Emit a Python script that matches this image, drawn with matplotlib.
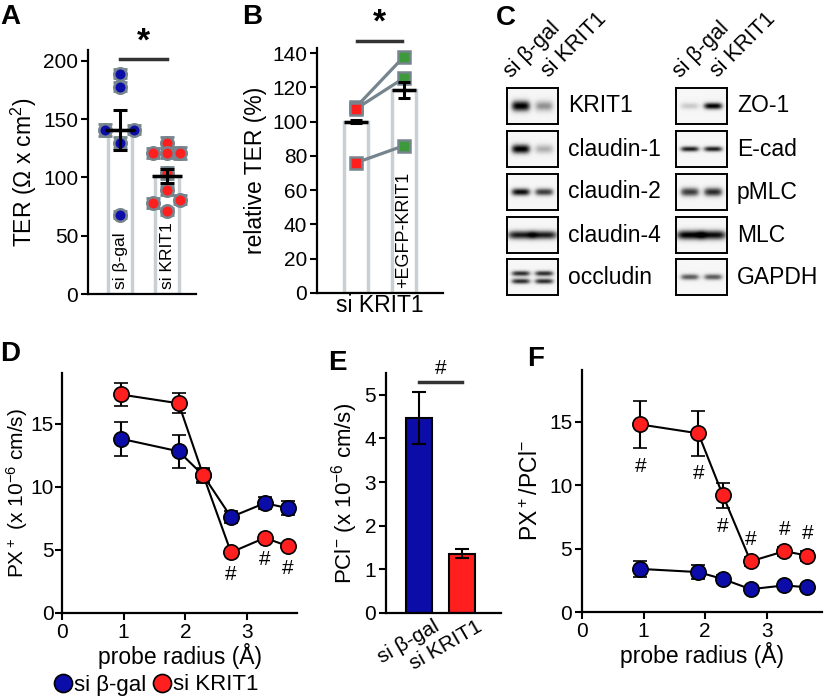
import matplotlib
matplotlib.use('Agg')
import matplotlib.pyplot as plt
import matplotlib.transforms as mtransforms
import numpy as np

plt.rcParams['font.family'] = ['Liberation Sans', 'DejaVu Sans']
plt.rcParams['mathtext.default'] = 'regular'

# ---- data ----
# A: TER per well
a_groups = ['si β-gal', 'si KRIT1']
a_means = [141, 101]
a_sem = [17, 6]
a_bgal = [189, 178, 141, 141, 130, 68]
a_bgal_err = [4, 4, 5, 4, 5, 3]
a_krit = [130, 121, 121, 121, 104, 89, 81, 78, 71]
a_krit_err = [5, 4, 4, 5, 5, 4, 4, 4, 3]

# B: relative TER, si KRIT1 vs si KRIT1 + EGFP-KRIT1
b_labels = ['', '+EGFP-KRIT1']
b_means = [100, 118.5]
b_sem = [1, 4.5]
b_before = [108.5, 107.5, 76]
b_after = [138, 125.5, 86]

# C: western blots (band strength per lane: si b-gal, si KRIT1)
c_left_names = ['KRIT1', 'claudin-1', 'claudin-2', 'claudin-4', 'occludin']
c_left_bands = [[0.95, 0.45], [0.95, 0.35], [0.9, 0.75], [0.85, 0.85], [0.8, 0.8]]
c_right_names = ['ZO-1', 'E-cad', 'pMLC', 'MLC', 'GAPDH']
c_right_bands = [[0.25, 0.95], [0.85, 0.85], [0.75, 0.8], [0.95, 0.9], [0.65, 0.65]]
c_lanes = ['si β-gal', 'si KRIT1']

# D / F: probe radius series
radius = [0.95, 1.89, 2.29, 2.74, 3.29, 3.66]
d_bgal = [13.8, 12.8, 10.9, 7.6, 8.7, 8.3]
d_bgal_err = [1.35, 1.3, 0.5, 0.5, 0.5, 0.55]
d_krit = [17.3, 16.6, 10.9, 4.8, 5.95, 5.3]
d_krit_err = [0.9, 0.8, 0.6, 0.2, 0.2, 0.2]
d_sig = ['', '', '', '#', '#', '#']

e_groups = ['si β-gal', 'si KRIT1']
e_vals = [4.47, 1.36]
e_err = [0.6, 0.11]

f_bgal = [3.4, 3.15, 2.6, 1.8, 2.1, 1.95]
f_bgal_err = [0.6, 0.55, 0.35, 0.2, 0.2, 0.2]
f_krit = [14.8, 14.1, 9.2, 4.0, 4.8, 4.45]
f_krit_err = [1.85, 1.75, 1.0, 0.35, 0.35, 0.4]
f_sig_below = [True, True, True, False, False, False]

BLUE = '#0c0ca8'
RED = '#ff1f1f'
GREEN = '#3c9a3c'
PTGRAY = '#76848d'
BARGRAY = '#c8d0d4'

W, H = 825, 696
fig = plt.figure(figsize=(W / 100, H / 100), dpi=100)


def px_axes(x0, y0, x1, y1):
    return fig.add_axes([x0 / W, 1 - y1 / H, (x1 - x0) / W, (y1 - y0) / H])


def style(ax, xticks=True):
    for s in ['top', 'right']:
        ax.spines[s].set_visible(False)
    for s in ['left', 'bottom']:
        ax.spines[s].set_linewidth(1.6)
    ax.tick_params(width=1.5, length=5, labelsize=15, pad=2)
    if not xticks:
        ax.tick_params(axis='x', length=0, labelbottom=False)


def letter(x, y, s):
    fig.text(x / W, 1 - y / H, s, fontsize=20, fontweight='bold', ha='left', va='top')


# ---- A ----
ax = px_axes(88, 50, 196, 294)
style(ax, xticks=False)
pos = [1, 2]
ax.bar(pos, a_means, width=0.53, fill=False, edgecolor=BARGRAY, linewidth=2.5, zorder=1)
offs_b = [0, 0, -0.32, 0.3, 0, 0]
offs_k = [0, -0.3, 0, 0.28, 0, 0, 0.28, -0.3, 0]
for p, vals, errs, offs, col in [(1, a_bgal, a_bgal_err, offs_b, BLUE),
                                 (2, a_krit, a_krit_err, offs_k, RED)]:
    xs = [p + o for o in offs]
    ax.errorbar(xs, vals, yerr=errs, fmt='none', ecolor=PTGRAY, elinewidth=2,
                capsize=5, capthick=2, zorder=2)
    ax.plot(xs, vals, 'o', color=col, mec=PTGRAY, mew=1.8, ms=9, zorder=3)
ax.errorbar(pos, a_means, yerr=a_sem, fmt='none', ecolor='k', elinewidth=2.2,
            capsize=5, capthick=2.2, zorder=5)
ax.hlines(a_means, [p - 0.32 for p in pos], [p + 0.32 for p in pos], color='k', lw=2.5, zorder=5)
for p, g in zip(pos, a_groups):
    ax.text(p, 4, g, rotation=90, ha='center', va='bottom', fontsize=12.5, zorder=4)
ax.set_xlim(0.319, 2.617)
ax.set_ylim(0, 209.4)
ax.set_yticks([0, 50, 100, 150, 200])
ax.set_ylabel('TER (Ω x cm$^2$)', fontsize=16.5, labelpad=3)
ax.plot([1, 2], [201.7, 201.7], color='#333333', lw=2.5, clip_on=False)
ax.text(1.5, 203, '*', ha='center', va='bottom', fontsize=24, fontweight='bold')

# ---- B ----
ax = px_axes(317, 48, 443, 293)
style(ax, xticks=False)
ax.bar(pos, b_means, width=0.52, fill=False, edgecolor=BARGRAY, linewidth=2.5, zorder=1)
for b, a in zip(b_before, b_after):
    ax.plot([1, 2], [b, a], color=PTGRAY, lw=2.3, zorder=2)
ax.plot([1] * len(b_before), b_before, 's', color=RED, mec=PTGRAY, mew=1.8, ms=8, zorder=3)
ax.plot([2] * len(b_after), b_after, 's', color=GREEN, mec=PTGRAY, mew=1.8, ms=8, zorder=3)
ax.errorbar(pos, b_means, yerr=b_sem, fmt='none', ecolor='k', elinewidth=2.2,
            capsize=4, capthick=2.2, zorder=5)
ax.hlines(b_means, [p - 0.26 for p in pos], [p + 0.26 for p in pos], color='k', lw=2.5, zorder=5)
ax.text(2, 3, b_labels[1], rotation=90, ha='center', va='bottom', fontsize=13)
ax.set_xlim(0.1875, 2.8125)
ax.set_ylim(0, 143)
ax.set_yticks(range(0, 141, 20))
ax.set_ylabel('relative TER (%)', fontsize=16.5, labelpad=4)
ax.set_xlabel('si KRIT1', fontsize=16.5, labelpad=1)
ax.plot([1.02, 1.96], [147.2, 147.2], color='#333333', lw=2.5, clip_on=False)
ax.text(1.49, 148.5, '*', ha='center', va='bottom', fontsize=24, fontweight='bold')

# ---- C ----
c_sigma = {'KRIT1': 0.16, 'claudin-1': 0.14, 'claudin-2': 0.11, 'claudin-4': 0.13,
           'occludin': 0.08, 'ZO-1': 0.1, 'E-cad': 0.08, 'pMLC': 0.13, 'MLC': 0.14,
           'GAPDH': 0.09}


def blot(ax, name, strengths):
    yy, xx = np.mgrid[0:1:72j, 0:1:102j]
    img = np.full(xx.shape, 0.07)
    wide = 0.27 if name in ('claudin-4', 'MLC') else 0.19
    for s, xc in zip(strengths, [0.27, 0.73]):
        hprof = np.exp(-((xx - xc) / wide) ** 4)
        if name == 'occludin':
            vprof = np.exp(-((yy - 0.4) / 0.08) ** 2) + np.exp(-((yy - 0.62) / 0.08) ** 2)
        else:
            vprof = np.exp(-((yy - 0.5) / c_sigma[name]) ** 2)
        img += s * hprof * vprof
    ax.imshow(np.clip(img, 0, 1), cmap='Greys', vmin=0, vmax=1, aspect='auto',
              interpolation='bilinear')
    ax.set_xticks([])
    ax.set_yticks([])
    for sp in ax.spines.values():
        sp.set_linewidth(1.4)


row_tops = [88, 131, 174, 217, 259]
for x0, names, bands in [(507, c_left_names, c_left_bands), (676, c_right_names, c_right_bands)]:
    for top, nm, bd in zip(row_tops, names, bands):
        bax = px_axes(x0, top, x0 + 51, top + 36)
        blot(bax, nm, bd)
        fig.text((x0 + 61) / W, 1 - (top + 18) / H, nm, fontsize=16.5, va='center', ha='left')
    for dx, ln in zip([8, 46], c_lanes):
        fig.text((x0 + dx) / W, 1 - 82 / H, ln, fontsize=15.5, rotation=45,
                 ha='left', va='bottom', rotation_mode='anchor')

# ---- D ----
ax = px_axes(62, 373, 297, 613)
style(ax)
ax.tick_params(axis='y', pad=1)
for vals, errs, col in [(d_bgal, d_bgal_err, BLUE), (d_krit, d_krit_err, RED)]:
    ax.errorbar(radius, vals, yerr=errs, fmt='-o', color='k', mfc=col, mec='k', mew=1.2,
                ms=11, lw=1.5, elinewidth=1.5, capsize=5, capthick=1.5)
for x, v, e, s in zip(radius, d_krit, d_krit_err, d_sig):
    if s:
        ax.text(x, v - e - 0.8, s, ha='center', va='top', fontsize=15)
ax.set_xlim(0, 3.81)
ax.set_ylim(0, 19)
ax.set_xticks([0, 1, 2, 3])
ax.set_yticks([0, 5, 10, 15])
ax.set_ylabel('PX$^+$ (x 10$^{-6}$ cm/s)', fontsize=15)
ax.yaxis.set_label_coords(-0.135, 0.5)
ax.set_xlabel('probe radius (Å)', fontsize=16.5, labelpad=1)
hb, = ax.plot([], [], 'o', mfc=BLUE, mec='k', mew=1.2, ms=13)
hr, = ax.plot([], [], 'o', mfc=RED, mec='k', mew=1.2, ms=13)
fig.legend([hb, hr], ['si β-gal', 'si KRIT1'], loc='center left',
           bbox_to_anchor=(56 / W, 1 - 685 / H), ncol=2, frameon=False, fontsize=16,
           handlelength=0.6, handletextpad=0.2, columnspacing=0.4, borderpad=0,
           borderaxespad=0)

# ---- E ----
ax = px_axes(386, 373, 501, 613)
style(ax)
ax.bar(pos, e_vals, width=0.615, color=[BLUE, RED], edgecolor='k', linewidth=1.5)
ax.errorbar(pos, e_vals, yerr=e_err, fmt='none', ecolor='k', elinewidth=1.5,
            capsize=5, capthick=1.5)
ax.set_xlim(0.213, 2.93)
ax.set_ylim(0, 5.5)
ax.set_yticks([0, 1, 2, 3, 4, 5])
ax.set_xticks(pos)
ax.set_xticklabels(e_groups, rotation=30, ha='right', rotation_mode='anchor')
ax.tick_params(axis='x', length=0, pad=3)
shift = mtransforms.ScaledTranslation(14 / 100, 0, fig.dpi_scale_trans)
for t in ax.get_xticklabels():
    t.set_transform(t.get_transform() + shift)
ax.set_ylabel('PCl$^{-}$ (x 10$^{-6}$ cm/s)', fontsize=16, labelpad=3)
ax.plot([1, 2], [5.3, 5.3], color='#333333', lw=2.5, clip_on=False)
ax.text(1.5, 5.38, '#', ha='center', va='bottom', fontsize=15)

# ---- F ----
ax = px_axes(582, 370, 822, 612)
style(ax)
for vals, errs, col in [(f_bgal, f_bgal_err, BLUE), (f_krit, f_krit_err, RED)]:
    ax.errorbar(radius, vals, yerr=errs, fmt='-o', color='k', mfc=col, mec='k', mew=1.2,
                ms=11, lw=1.5, elinewidth=1.5, capsize=5, capthick=1.5)
for x, v, e, below in zip(radius, f_krit, f_krit_err, f_sig_below):
    if below:
        ax.text(x, v - e - 0.7, '#', ha='center', va='top', fontsize=15)
    else:
        ax.text(x, v + e + 0.6, '#', ha='center', va='bottom', fontsize=15)
ax.set_xlim(0, 3.9)
ax.set_ylim(0, 19.1)
ax.set_xticks([0, 1, 2, 3])
ax.set_yticks([0, 5, 10, 15])
ax.set_ylabel('PX$^+$/PCl$^{-}$', fontsize=16.5, labelpad=4)
ax.set_xlabel('probe radius (Å)', fontsize=16.5, labelpad=1)

letter(0, 4, 'A')
letter(242, 4, 'B')
letter(496, 5, 'C')
letter(0, 341, 'D')
letter(328, 350, 'E')
letter(527, 346, 'F')

fig.savefig('out.png', dpi=100)
